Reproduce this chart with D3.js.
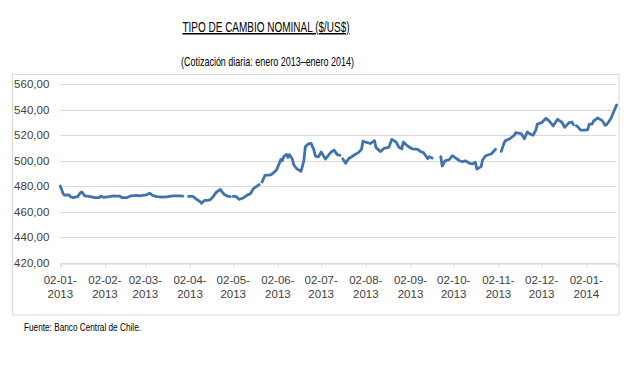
<!DOCTYPE html>
<html>
<head>
<meta charset="utf-8">
<script src="https://cdn.jsdelivr.net/npm/d3@7"></script>
<style>
  body { margin: 0; background: #fff; }
  svg text { font-family: "Liberation Sans", Arial, sans-serif; }
</style>
</head>
<body>
<svg id="drawing_region"></svg>
<script>
// fechas y valores (null = feriado, sin cotizacion)
const dates = [
  "2013-01-02","2013-01-04","2013-01-05","2013-01-08","2013-01-09","2013-01-11","2013-01-14","2013-01-16",
  "2013-01-17","2013-01-19","2013-01-23","2013-01-26","2013-01-29","2013-01-30","2013-02-01","2013-02-05",
  "2013-02-08","2013-02-10","2013-02-12","2013-02-14","2013-02-17","2013-02-20","2013-02-24","2013-02-26",
  "2013-02-28","2013-03-03","2013-03-05","2013-03-07","2013-03-10","2013-03-14","2013-03-18","2013-03-21",
  "2013-03-26","2013-03-28","2013-03-29","2013-04-01","2013-04-04","2013-04-06","2013-04-09","2013-04-10",
  "2013-04-12","2013-04-14","2013-04-16","2013-04-18","2013-04-20","2013-04-21","2013-04-23","2013-04-24",
  "2013-04-26","2013-04-28","2013-04-30","2013-05-01","2013-05-02","2013-05-04","2013-05-06","2013-05-09",
  "2013-05-11","2013-05-14","2013-05-16","2013-05-18","2013-05-20","2013-05-21","2013-05-22","2013-05-24",
  "2013-05-26","2013-05-28","2013-05-30","2013-06-01","2013-06-03","2013-06-04","2013-06-05","2013-06-06",
  "2013-06-08","2013-06-09","2013-06-10","2013-06-12","2013-06-13","2013-06-15","2013-06-18","2013-06-20",
  "2013-06-21","2013-06-23","2013-06-25","2013-06-27","2013-06-28","2013-06-30","2013-07-02","2013-07-05",
  "2013-07-09","2013-07-11","2013-07-13","2013-07-15","2013-07-16","2013-07-17","2013-07-19","2013-07-21",
  "2013-07-25","2013-07-28","2013-07-30","2013-07-31","2013-08-03","2013-08-05","2013-08-08","2013-08-09",
  "2013-08-12","2013-08-15","2013-08-18","2013-08-20","2013-08-23","2013-08-25","2013-08-27","2013-08-28",
  "2013-08-31","2013-09-03","2013-09-07","2013-09-09","2013-09-11","2013-09-14","2013-09-15","2013-09-17",
  "2013-09-18","2013-09-23","2013-09-24","2013-09-26","2013-09-29","2013-10-01","2013-10-03","2013-10-06",
  "2013-10-08","2013-10-10","2013-10-13","2013-10-15","2013-10-17","2013-10-18","2013-10-21","2013-10-22",
  "2013-10-24","2013-10-26","2013-10-28","2013-10-31","2013-11-01","2013-11-04","2013-11-06","2013-11-07",
  "2013-11-10","2013-11-13","2013-11-14","2013-11-17","2013-11-18","2013-11-20","2013-11-22","2013-11-24",
  "2013-11-26","2013-11-28","2013-11-29","2013-12-02","2013-12-05","2013-12-07","2013-12-10","2013-12-13",
  "2013-12-16","2013-12-18","2013-12-21","2013-12-23","2013-12-24","2013-12-25","2013-12-26","2013-12-27",
  "2013-12-29","2014-01-01","2014-01-03","2014-01-04","2014-01-06","2014-01-07","2014-01-10","2014-01-13",
  "2014-01-15","2014-01-16","2014-01-19","2014-01-21","2014-01-23"
];
const values = [
  480.2,474.0,473.0,473.3,471.8,471.0,471.8,475.0,
  475.5,472.5,471.8,471.0,471.0,472.3,471.3,471.8,
  472.5,472.3,472.3,471.0,471.0,472.5,472.8,472.5,
  472.8,473.3,474.6,472.8,471.8,471.5,471.8,472.5,
  472.5,472.3,null,472.0,472.0,470.2,467.9,466.6,
  468.9,469.0,469.3,471.8,475.0,476.0,477.6,475.8,
  473.3,472.3,471.8,null,472.0,472.0,469.7,470.8,
  472.5,474.3,478.1,479.7,481.3,null,483.3,488.6,
  488.8,489.0,490.6,492.7,498.0,501.1,500.0,503.2,
  505.0,502.6,504.7,501.4,496.7,493.8,491.7,500.0,
  511.0,513.2,513.6,508.4,503.7,503.0,506.9,501.4,
  506.9,508.4,505.0,504.2,null,501.6,498.0,501.6,
  504.5,506.6,509.0,515.3,514.3,513.5,515.8,510.5,
  507.2,510.0,510.5,516.8,514.7,510.5,509.4,514.7,
  511.6,509.4,509.0,507.2,506.4,501.6,503.2,502.1,
  null,503.2,495.9,500.0,501.0,504.0,502.4,500.0,
  499.2,500.0,498.0,497.5,498.8,493.5,495.4,500.6,
  503.7,504.7,505.3,509.0,null,507.4,514.2,515.8,
  517.3,520.0,522.0,521.5,521.0,517.3,522.6,521.0,
  520.0,524.1,528.8,529.9,533.3,531.5,527.3,532.5,
  530.2,526.3,529.9,530.4,528.3,null,527.5,526.8,
  524.1,524.1,524.5,528.8,528.8,531.2,533.6,531.5,
  527.8,528.3,533.0,538.5,543.8
];
const yTicks = [420, 440, 460, 480, 500, 520, 540, 560];
const xTicks = ["2013-01-02","2013-02-02","2013-03-02","2013-04-02","2013-05-02","2013-06-02","2013-07-02",
                "2013-08-02","2013-09-02","2013-10-02","2013-11-02","2013-12-02","2014-01-02"];

const titleText = "TIPO DE CAMBIO NOMINAL ($/US$)";
const subtitleText = "(Cotización diaria: enero 2013–enero 2014)";
const sourceText = "Fuente: Banco Central de Chile.";

const width = 634, height = 369;
const margin = { left: 60.3, right: 17.4, top: 84.3, bottom: 106.3 };
const parse = d3.timeParse("%Y-%m-%d");
const data = dates.map((d, i) => ({ date: parse(d), value: values[i] }));

const svg = d3.select('#drawing_region')
    .attr('width', width)
    .attr('height', height);

// marco del grafico
svg.append('rect')
    .attr('x', 12.5).attr('y', 74.5)
    .attr('width', 606.5).attr('height', 240.5)
    .attr('fill', 'none')
    .attr('stroke', '#d9d9d9');

const xscale = d3.scaleTime()
    .domain([parse("2013-01-02"), parse("2014-01-23")])
    .range([margin.left, width - margin.right]);
const yscale = d3.scaleLinear()
    .domain([420, 560])
    .range([height - margin.bottom, margin.top]);

const locale = d3.formatLocale({ decimal: ",", thousands: ".", grouping: [3], currency: ["$", ""] });
const fmt = locale.format(".2f");

// lineas de grilla
svg.append('g').selectAll('line')
    .data(yTicks)
    .join('line')
    .attr('x1', margin.left).attr('x2', width - margin.right)
    .attr('y1', d => Math.round(yscale(d)) + 0.5)
    .attr('y2', d => Math.round(yscale(d)) + 0.5)
    .attr('stroke', '#d9d9d9')
    .attr('stroke-width', 1);

// eje y
const yaxis = d3.axisLeft(yscale).tickValues(yTicks).tickSize(0).tickPadding(11).tickFormat(fmt);
const yaxis_group = svg.append('g')
    .attr('transform', `translate(${margin.left}, 0)`)
    .call(yaxis);
yaxis_group.select('.domain').remove();
yaxis_group.selectAll('text')
    .attr('font-size', 11.5)
    .attr('fill', '#404040')
    .style('font-family', '"Liberation Sans", Arial, sans-serif');

// eje x
const xaxis = d3.axisBottom(xscale)
    .tickValues(xTicks.map(parse))
    .tickSize(4)
    .tickFormat('');
const xaxis_group = svg.append('g')
    .attr('transform', `translate(0, ${Math.round(yscale(420)) + 0.5})`)
    .call(xaxis);
xaxis_group.select('.domain').attr('stroke', '#d9d9d9');
xaxis_group.selectAll('.tick line').attr('stroke', '#d9d9d9');

const labels = svg.append('g').selectAll('text')
    .data(xTicks.map(parse))
    .join('text')
    .attr('x', d => xscale(d))
    .attr('text-anchor', 'middle')
    .attr('font-size', 11.5)
    .attr('fill', '#404040');
labels.append('tspan')
    .attr('x', d => xscale(d))
    .attr('y', 283.5)
    .text(d => d3.timeFormat("%d-%m-")(d));
labels.append('tspan')
    .attr('x', d => xscale(d))
    .attr('y', 298.3)
    .text(d => d3.timeFormat("%Y")(d));

// serie
const line = d3.line()
    .defined(d => d.value != null)
    .x(d => xscale(d.date))
    .y(d => yscale(d.value));
svg.append('path')
    .attr('d', line(data))
    .attr('fill', 'none')
    .attr('stroke', '#4172b0')
    .attr('stroke-width', 2.8)
    .attr('stroke-linejoin', 'round')
    .attr('stroke-linecap', 'round');

// titulos (fuente angosta: se comprime al ancho del original)
svg.append('text')
    .attr('x', 266).attr('y', 32)
    .attr('text-anchor', 'middle')
    .attr('font-size', 15)
    .attr('textLength', 167)
    .attr('lengthAdjust', 'spacingAndGlyphs')
    .style('text-decoration', 'underline')
    .attr('fill', '#000')
    .text(titleText);
svg.append('text')
    .attr('x', 267.5).attr('y', 66)
    .attr('text-anchor', 'middle')
    .attr('font-size', 13)
    .attr('textLength', 173)
    .attr('lengthAdjust', 'spacingAndGlyphs')
    .attr('fill', '#000')
    .text(subtitleText);
svg.append('text')
    .attr('x', 24).attr('y', 330.5)
    .attr('font-size', 11.5)
    .attr('textLength', 117)
    .attr('lengthAdjust', 'spacingAndGlyphs')
    .attr('fill', '#000')
    .text(sourceText);
</script>
</body>
</html>
